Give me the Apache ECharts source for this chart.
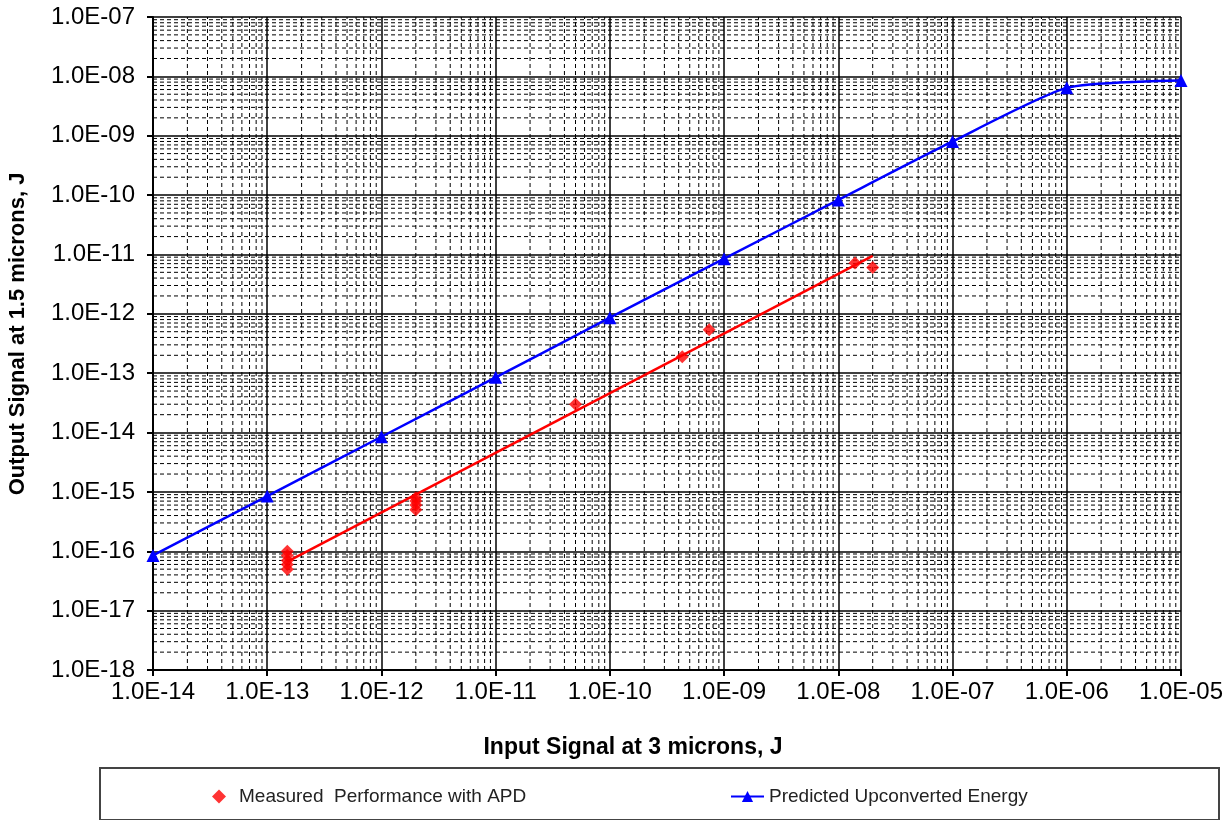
<!DOCTYPE html>
<html>
<head>
<meta charset="utf-8">
<script src="https://cdn.jsdelivr.net/npm/echarts@6/dist/echarts.min.js"></script>
<style>
    html, body { margin: 0; padding: 0; background: #fff; }
    #main { width: 1231px; height: 820px; }
</style>
</head>
<body>
<div id="main"></div>
<script>
// input energy at each predicted point (J)
var predX = [1e-14, 1e-13, 1e-12, 1e-11, 1e-10, 1e-9, 1e-8, 1e-7, 1e-6, 1e-5];
var predY = [8.5e-17, 8.5e-16, 8.5e-15, 8.5e-14, 8.6e-13, 8.5e-12, 8.3e-11, 8e-10, 6.4e-9, 8.5e-9];

// measured points
var measX = [1.5e-13, 1.5e-13, 1.5e-13, 1.5e-13, 1.5e-13, 2e-12, 2e-12, 2e-12, 2e-12, 5e-11, 4.3e-10, 7.4e-10, 1.4e-8, 2e-8];
var measY = [1e-16, 8.5e-17, 7e-17, 6e-17, 5e-17, 8e-16, 7e-16, 6e-16, 5e-16, 3e-14, 1.9e-13, 5.4e-13, 7.2e-12, 6e-12];

// power-law trend through measured points
var fitX = [1.5e-13, 2e-8];
var fitY = [6.7e-17, 9.5e-12];

var xMin = 1e-14, xMax = 1e-5;
var yMin = 1e-18, yMax = 1e-7;

// minor grid values (2..9 in each decade)
var minorX = [];
var minorY = [];
for (var e = -14; e < -5; e++) {
    for (var m = 2; m <= 9; m++) minorX.push(m * Math.pow(10, e));
}
for (var e2 = -18; e2 < -7; e2++) {
    for (var m2 = 2; m2 <= 9; m2++) minorY.push(m2 * Math.pow(10, e2));
}

function sciLabel(v) {
    var p = Math.round(Math.log10(v));
    var a = Math.abs(p);
    return '1.0E' + (p < 0 ? '-' : '+') + (a < 10 ? '0' + a : a);
}

function zip(xs, ys) {
    var out = [];
    for (var i = 0; i < xs.length; i++) out.push([xs[i], ys[i]]);
    return out;
}

// broken polylines: one segment per minor value, '-' breaks the line
var minorV = [];
minorX.forEach(function (v) {
    minorV.push([v, yMin], [v, yMax], ['-', '-']);
});
var minorH = [];
minorY.forEach(function (v) {
    minorH.push([xMin, v], [xMax, v], ['-', '-']);
});

var minorStyle = {color: '#000', width: 1, type: [4, 3]};

var myChart = echarts.init(document.getElementById('main'));
var option = {
    backgroundColor: '#fff',
    animation: false,
    textStyle: {fontFamily: 'Liberation Sans, Arial, sans-serif'},
    grid: {
        left: 153,
        right: 50,
        top: 17,
        bottom: 150
    },
    xAxis: {
        type: 'log',
        logBase: 10,
        min: xMin,
        max: xMax,
        interval: 1,
        axisLine: {lineStyle: {color: '#000', width: 2}},
        axisTick: {show: true, length: 6, lineStyle: {color: '#000', width: 2}},
        axisLabel: {
            formatter: sciLabel,
            color: '#000',
            fontSize: 24,
            margin: 10
        },
        splitLine: {show: true, lineStyle: {color: '#000', width: 1.5}}
    },
    yAxis: {
        type: 'log',
        logBase: 10,
        min: yMin,
        max: yMax,
        interval: 1,
        axisLine: {lineStyle: {color: '#000', width: 2}},
        axisTick: {show: true, length: 6, lineStyle: {color: '#000', width: 2}},
        axisLabel: {
            formatter: sciLabel,
            color: '#000',
            fontSize: 24,
            margin: 18
        },
        splitLine: {show: true, lineStyle: {color: '#000', width: 1.5}}
    },
    legend: [{
        data: ['Measured  Performance with APD'],
        left: 207,
        top: 782,
        itemWidth: 14,
        itemHeight: 14,
        textStyle: {color: '#222', fontSize: 19, padding: [0, 0, 0, 8]}
    }, {
        data: ['Predicted Upconverted Energy'],
        left: 725,
        top: 782,
        itemWidth: 33,
        itemHeight: 14,
        textStyle: {color: '#222', fontSize: 19}
    }],
    graphic: [{
        type: 'rect',
        shape: {x: 100, y: 768, width: 1119, height: 52},
        style: {fill: 'none', stroke: '#444', lineWidth: 2}
    }, {
        type: 'text',
        x: 633,
        y: 748,
        style: {
            text: 'Input Signal at 3 microns, J',
            font: 'bold 23px Liberation Sans, Arial, sans-serif',
            fill: '#000',
            align: 'center',
            verticalAlign: 'middle'
        }
    }, {
        type: 'text',
        x: 18,
        y: 334,
        rotation: Math.PI / 2,
        style: {
            text: 'Output Signal at 1.5 microns, J',
            font: 'bold 22px Liberation Sans, Arial, sans-serif',
            fill: '#000',
            align: 'center',
            verticalAlign: 'middle'
        }
    }],
    series: [{
        name: 'minorV',
        type: 'line',
        data: minorV,
        showSymbol: false,
        silent: true,
        connectNulls: false,
        lineStyle: minorStyle,
        z: 1
    }, {
        name: 'minorH',
        type: 'line',
        data: minorH,
        showSymbol: false,
        silent: true,
        connectNulls: false,
        lineStyle: minorStyle,
        z: 1
    }, {
        name: 'fit',
        type: 'line',
        data: zip(fitX, fitY),
        showSymbol: false,
        lineStyle: {color: '#ff0000', width: 2.5},
        z: 3
    }, {
        name: 'Measured  Performance with APD',
        type: 'scatter',
        data: zip(measX, measY),
        symbol: 'diamond',
        symbolSize: 13,
        itemStyle: {color: '#ff0000'},
        z: 4
    }, {
        name: 'Predicted Upconverted Energy',
        type: 'line',
        data: zip(predX, predY),
        smooth: 0.2,
        symbol: 'triangle',
        symbolSize: 13,
        showAllSymbol: true,
        lineStyle: {color: '#0000ff', width: 2.5},
        itemStyle: {color: '#0000ff'},
        z: 5
    }]
};
myChart.setOption(option);
</script>
</body>
</html>
